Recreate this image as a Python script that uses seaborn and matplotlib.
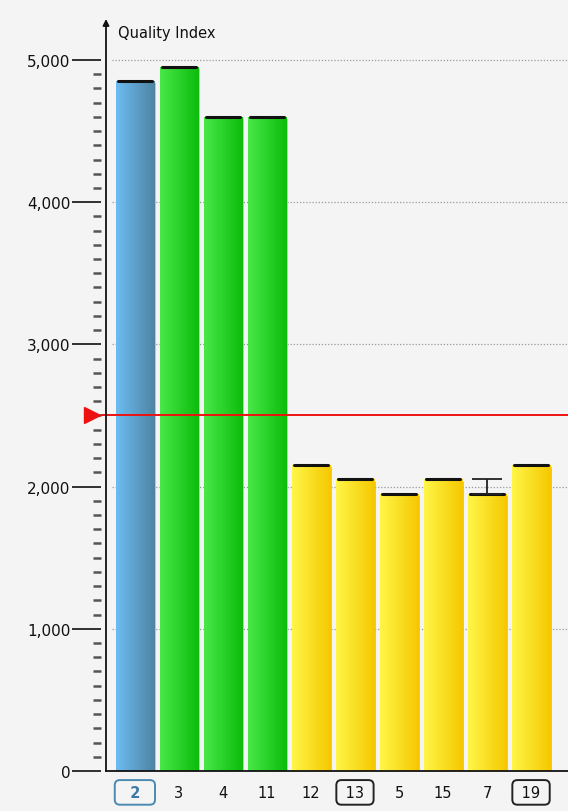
import numpy as np
import pandas as pd
import matplotlib
matplotlib.use("Agg")
import matplotlib.pyplot as plt
import seaborn as sns
from matplotlib.colors import LinearSegmentedColormap
from matplotlib.ticker import FixedLocator, FuncFormatter
import matplotlib.transforms as mtransforms

categories = ["2", "3", "4", "11", "12", "13", "5", "15", "7", "19"]
values = [4850, 4950, 4600, 4600, 2150, 2050, 1950, 2050, 1950, 2150]
groups = ["blue", "green", "green", "green", "yellow", "yellow", "yellow", "yellow", "yellow", "yellow"]
err_upper = [0, 0, 0, 0, 0, 0, 0, 0, 100, 0]
boxed = {"2": "#4a8ab0", "13": "#222222", "19": "#222222"}
threshold = 2500
y_max = 5288
major_ticks = [0, 1000, 2000, 3000, 4000, 5000]
minor_ticks = list(range(0, 5001, 100))

gradients = {
    "blue": ["#6cbcf2", "#4e84a2"],
    "green": ["#48e848", "#0cbc0c"],
    "yellow": ["#fff648", "#f5c800"],
}

sns.set_theme(style="white")
plt.rcParams["font.family"] = ["DejaVu Sans"]

df = pd.DataFrame({"cat": categories, "val": values, "grp": groups})

fig = plt.figure(figsize=(5.68, 8.12), dpi=100)
W, H = 568, 812
ax = fig.add_axes([101 / W, 40 / H, (W - 101) / W, (772 - 20) / H])
ax.set_facecolor("#f4f4f4")
fig.patch.set_facecolor("#f4f4f4")

sns.barplot(data=df, x="cat", y="val", order=categories, color="#cccccc",
            width=0.87, ax=ax, errorbar=None, zorder=2, linewidth=0)

XL = (-0.77, 9.84)
ax.set_xlim(*XL)
ax.set_ylim(0, y_max)

for patch, grp in zip(ax.patches, groups):
    x0, y0 = patch.get_x(), patch.get_y()
    w, h = patch.get_width(), patch.get_height()
    cmap = LinearSegmentedColormap.from_list(grp, gradients[grp])
    grad = np.linspace(0, 1, 256).reshape(1, -1)
    patch.set_facecolor("none")
    sh = plt.Rectangle((x0 + 0.05, y0), w, h - 15, facecolor="#b8b8b8",
                       edgecolor="none", zorder=1, alpha=0.8)
    ax.add_patch(sh)
    im = ax.imshow(grad, cmap=cmap, aspect="auto",
                   extent=[x0, x0 + w, y0, y0 + h], zorder=2.5,
                   interpolation="bilinear")
    im.set_clip_path(patch)
    ax.plot([x0 + 0.04, x0 + w - 0.04], [y0 + h, y0 + h], color="#111111",
            lw=2.2, solid_capstyle="round", zorder=3)

ax.set_xlim(*XL)
ax.set_ylim(0, y_max)

xs = np.arange(len(categories))
for xi, v, e in zip(xs, values, err_upper):
    if e > 0:
        ax.errorbar(xi, v, yerr=[[0], [e]], fmt="none", ecolor="#222222",
                    elinewidth=1.3, capsize=11, capthick=1.3, zorder=4)

ax.axhline(threshold, color="#ee1111", lw=1.4, zorder=5)
trans = mtransforms.blended_transform_factory(ax.transAxes, ax.transData)
ax.plot([-0.02], [threshold], marker=">", color="#ee1111", markersize=11,
        transform=trans, clip_on=False, zorder=6)

for yv in major_ticks[1:]:
    ax.plot([0.024, 1], [yv, yv], transform=trans, color="#999999", lw=0.9,
            ls=(0, (1, 1.5)), zorder=0.5)

for s in ["top", "right", "left"]:
    ax.spines[s].set_visible(False)
ax.spines["bottom"].set_color("#111111")
ax.spines["bottom"].set_linewidth(1.3)
ax.spines["bottom"].set_bounds(XL[0] + 5 / 44, XL[1])

ax.annotate("", xy=(5 / (W - 101), 1.0), xytext=(5 / (W - 101), 0.0),
            xycoords="axes fraction",
            arrowprops=dict(arrowstyle="-|>", color="#111111", lw=1.3,
                            mutation_scale=9, shrinkA=0, shrinkB=0),
            zorder=7, annotation_clip=False)
ax.text(17 / (W - 101), 0.982, "Quality Index", transform=ax.transAxes,
        ha="left", va="center", fontsize=10.5, color="#111111")

ax.yaxis.set_major_locator(FixedLocator(major_ticks))
ax.yaxis.set_minor_locator(FixedLocator(minor_ticks))
ax.yaxis.set_major_formatter(FuncFormatter(lambda v, p: f"{int(v):,}"))
ax.tick_params(axis="y", which="major", direction="out", length=21, width=1.3,
               color="#222222", pad=1, labelsize=11, labelcolor="#111111", left=True)
ax.tick_params(axis="y", which="minor", direction="out", length=5.5, width=1.8,
               color="#555555", left=True)

shown = []
for t in categories:
    if t in boxed:
        pad_s = "  " if len(t) == 1 else " "
        shown.append(pad_s + t + pad_s)
    else:
        shown.append(t)
ax.set_xticks(xs)
ax.set_xticklabels(shown)
ax.tick_params(axis="x", length=0, pad=10, labelsize=10.5, labelcolor="#111111")
for lab, t in zip(ax.get_xticklabels(), categories):
    if t in boxed:
        lab.set_bbox(dict(boxstyle="round,pad=0.33,rounding_size=0.35",
                          fc="none", ec=boxed[t], lw=1.4))
        if t == "2":
            lab.set_color("#3a7aa8")
            lab.set_fontweight("bold")
ax.set_xlabel("")
ax.set_ylabel("")

fig.savefig("out.png", dpi=100, facecolor=fig.get_facecolor())
